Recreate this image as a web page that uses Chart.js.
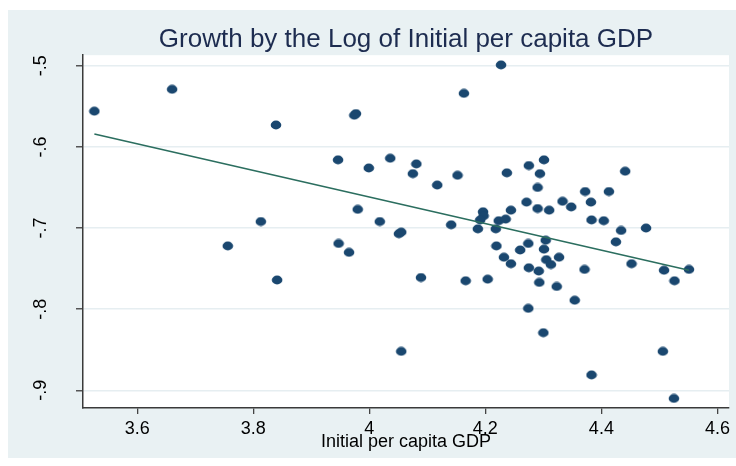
<!DOCTYPE html>
<html>
<head>
<meta charset="utf-8">
<script src="https://cdn.jsdelivr.net/npm/chart.js@4"></script>
<style>
  html, body { margin: 0; padding: 0; background: #ffffff; }
  #wrap { width: 736px; height: 466px; }
</style>
</head>
<body>
<div id="wrap"><canvas id="chart" width="736" height="466"></canvas></div>
<script>
// Initial per capita GDP (log) of each country
const gdpX = [
  3.526, 3.660, 3.839, 3.813, 3.756, 3.841, 4.227, 4.163, 3.977, 3.974,
  3.946, 3.999, 4.036, 4.081, 4.075, 4.117, 4.152, 3.980, 4.018, 4.051,
  4.055, 4.141, 4.237, 4.275, 4.301, 4.294, 4.290, 4.271, 4.290, 4.310,
  4.244, 4.196, 4.197, 4.191, 4.223, 4.235, 4.187, 4.218, 4.333, 4.348,
  4.372, 4.382, 4.413, 4.441, 4.383, 4.404, 4.434, 4.477, 3.947, 3.965,
  4.089, 4.166, 4.204, 4.055, 4.219, 4.260, 4.274, 4.304, 4.301, 4.232,
  4.244, 4.305, 4.313, 4.275, 4.292, 4.293, 4.323, 4.274, 4.300, 4.327,
  4.371, 4.354, 4.425, 4.452, 4.508, 4.526, 4.551, 4.506, 4.383, 4.525
];
// Growth of each country
const growthY = [
  -0.556, -0.529, -0.573, -0.692, -0.722, -0.764, -0.499, -0.534, -0.559, -0.561,
  -0.616, -0.626, -0.614, -0.621, -0.633, -0.647, -0.635, -0.677, -0.692, -0.707,
  -0.705, -0.696, -0.632, -0.623, -0.616, -0.633, -0.650, -0.668, -0.676, -0.678,
  -0.678, -0.680, -0.685, -0.690, -0.691, -0.689, -0.701, -0.701, -0.667, -0.674,
  -0.655, -0.668, -0.655, -0.630, -0.690, -0.691, -0.703, -0.700, -0.719, -0.730,
  -0.761, -0.765, -0.763, -0.852, -0.722, -0.727, -0.719, -0.715, -0.726, -0.736,
  -0.744, -0.739, -0.745, -0.749, -0.753, -0.767, -0.772, -0.799, -0.829, -0.736,
  -0.751, -0.789, -0.717, -0.744, -0.752, -0.765, -0.751, -0.852, -0.881, -0.910
];
// Fitted values line (end points)
const fitX = [3.526, 4.551];
const fitY = [-0.584, -0.752];

// Axis ticks
const xTicks = [3.6, 3.8, 4, 4.2, 4.4, 4.6];
const yTicks = [-0.9, -0.8, -0.7, -0.6, -0.5];

const NAVY = '#1a476f';
const FIT = '#2b6e5f';
const FRAME = '#e9f1f3';
const FONT = "'Liberation Sans', Arial, Helvetica, sans-serif";

// slightly wide dot marker
function makeDot() {
  const c = document.createElement('canvas');
  c.width = 12; c.height = 10;
  const g = c.getContext('2d');
  g.fillStyle = NAVY;
  g.beginPath();
  g.ellipse(6, 5, 5.3, 4.4, 0, 0, Math.PI * 2);
  g.fill();
  return c;
}
const dot = makeDot();

const fmt = v => {
  const s = (Math.round(v * 10) / 10).toString();
  return s.replace(/^(-?)0\./, '$1.');
};

const backdrop = {
  id: 'backdrop',
  beforeDraw(chart) {
    const { ctx, chartArea: a, width, height } = chart;
    ctx.save();
    ctx.fillStyle = '#ffffff';
    ctx.fillRect(0, 0, width, height);
    ctx.fillStyle = FRAME;
    ctx.fillRect(8, 10, width - 8, 448);
    ctx.fillStyle = '#ffffff';
    ctx.fillRect(a.left, a.top, a.right - a.left, a.bottom - a.top);
    ctx.restore();
  }
};

new Chart(document.getElementById('chart'), {
  type: 'scatter',
  data: {
    datasets: [
      {
        label: 'Growth',
        data: gdpX.map((x, i) => ({ x, y: growthY[i] })),
        pointStyle: dot,
        pointRadius: 5,
        order: 2
      },
      {
        type: 'line',
        label: 'Fitted values',
        data: fitX.map((x, i) => ({ x, y: fitY[i] })),
        borderColor: FIT,
        borderWidth: 1.6,
        pointRadius: 0,
        fill: false,
        order: 1
      }
    ]
  },
  options: {
    responsive: false,
    animation: false,
    layout: { padding: { left: 8, right: 7, top: 0, bottom: 0 } },
    plugins: {
      legend: { display: false },
      tooltip: { enabled: false },
      title: {
        display: true,
        fullSize: false,
        text: 'Growth by the Log of Initial per capita GDP',
        color: '#1d2c50',
        font: { family: FONT, size: 26, weight: 'normal', lineHeight: 1.2 },
        padding: { top: 24, bottom: 0 }
      }
    },
    scales: {
      x: {
        type: 'linear',
        min: 3.5064,
        max: 4.620,
        afterBuildTicks: s => { s.ticks = xTicks.map(v => ({ value: v })); },
        afterFit: s => { s.height = 58; },
        ticks: {
          callback: v => fmt(v),
          color: '#000',
          font: { family: FONT, size: 18 },
          padding: 4,
          maxRotation: 0,
          minRotation: 0
        },
        grid: {
          drawOnChartArea: false,
          drawTicks: true,
          tickLength: 6,
          color: '#444',
          lineWidth: 1.3
        },
        border: { display: true, color: '#3a3a3a', width: 1.5 },
        title: {
          display: true,
          text: 'Initial per capita GDP',
          color: '#000',
          font: { family: FONT, size: 18 },
          padding: { top: 0, bottom: 13 }
        }
      },
      y: {
        type: 'linear',
        min: -0.9218,
        max: -0.4870,
        afterBuildTicks: s => { s.ticks = yTicks.map(v => ({ value: v })); },
        afterFit: s => { s.width = 75; },
        ticks: {
          callback: v => fmt(v),
          color: '#000',
          font: { family: FONT, size: 18 },
          minRotation: 90,
          maxRotation: 90,
          crossAlign: 'center',
          padding: 24
        },
        grid: {
          drawOnChartArea: true,
          drawTicks: true,
          tickLength: 7,
          color: '#e6eef1',
          tickColor: '#555',
          lineWidth: 1.5
        },
        border: { display: true, color: '#3a3a3a', width: 1.5 }
      }
    }
  },
  plugins: [backdrop]
});
</script>
</body>
</html>
